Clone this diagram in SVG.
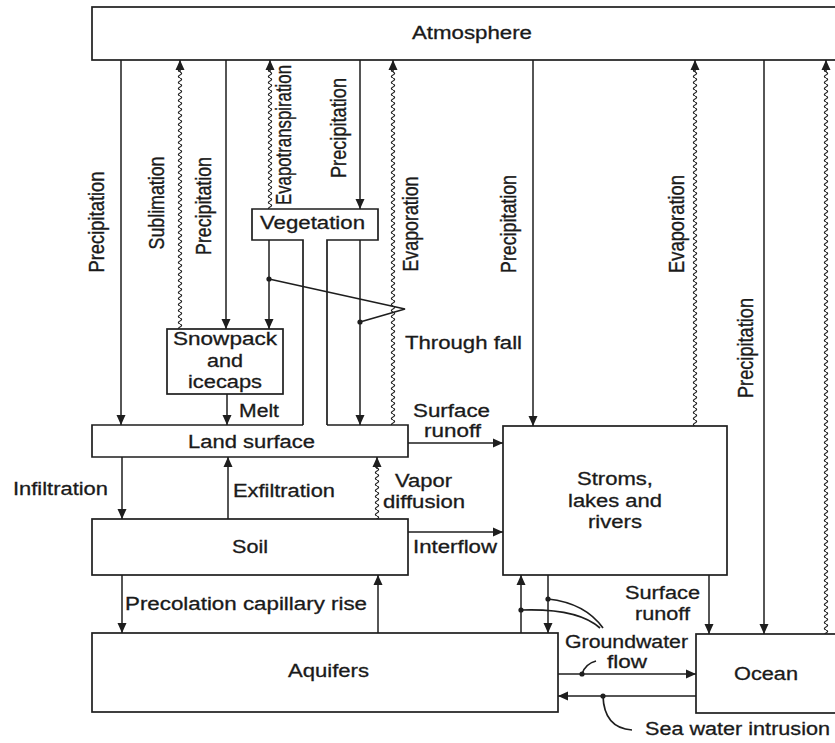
<svg xmlns="http://www.w3.org/2000/svg" width="835" height="743" viewBox="0 0 835 743">
<defs>
<style>
.box{fill:#fff;stroke:#1e1e1e;stroke-width:1.7}
.open{fill:none;stroke:#1e1e1e;stroke-width:1.7}
.ln{fill:none;stroke:#1e1e1e;stroke-width:1.5}
.pt{fill:none;stroke:#1e1e1e;stroke-width:1.7}
.dot{fill:#1e1e1e}
.t{font-family:"Liberation Sans",Arial,sans-serif;font-size:18px;fill:#1a1a1a;stroke:#1a1a1a;stroke-width:0.3}
.v{font-family:"Liberation Sans",Arial,sans-serif;font-size:18px;fill:#1a1a1a;stroke:#1a1a1a;stroke-width:0.3;text-anchor:middle}
</style>
<marker id="ar" viewBox="0 0 10 10" refX="10" refY="5" markerWidth="11" markerHeight="10" markerUnits="userSpaceOnUse" orient="auto">
<path d="M0 0.5 L10 5 L0 9.5 z" fill="#1e1e1e"/>
</marker>
<pattern id="wave" x="-4" y="0" width="8" height="6" patternUnits="userSpaceOnUse">
<path d="M4 0 Q7.2 1.5 4 3 Q0.8 4.5 4 6" fill="none" stroke="#1e1e1e" stroke-width="1.2"/>
</pattern>
</defs>
<rect x="0" y="0" width="835" height="743" fill="#fff"/>

<g id="atmosphere">
<rect class="box" x="92" y="7" width="760" height="53"/>
<text class="t" x="412" y="39" textLength="120" lengthAdjust="spacingAndGlyphs">Atmosphere</text>
</g>

<g id="vegetation">
<path class="open" d="M303 425 V240 H252 V209 H378 V240 H327 V425"/>
<text class="t" x="260" y="229" textLength="105" lengthAdjust="spacingAndGlyphs">Vegetation</text>
</g>

<g id="snowpack">
<rect class="box" x="167" y="329" width="116" height="65"/>
<text class="t" x="173" y="345" textLength="104" lengthAdjust="spacingAndGlyphs">Snowpack</text>
<text class="t" x="207" y="367" textLength="36" lengthAdjust="spacingAndGlyphs">and</text>
<text class="t" x="188" y="388" textLength="74" lengthAdjust="spacingAndGlyphs">icecaps</text>
</g>

<g id="land-surface">
<path class="open" d="M303 425 H92 V457 H408 V425 H327"/>
<text class="t" x="188" y="448" textLength="127" lengthAdjust="spacingAndGlyphs">Land surface</text>
</g>

<g id="soil">
<rect class="box" x="92" y="519" width="316" height="56"/>
<text class="t" x="232" y="553" textLength="36" lengthAdjust="spacingAndGlyphs">Soil</text>
</g>

<g id="streams">
<rect class="box" x="503" y="426" width="224" height="149"/>
<text class="t" x="577" y="485" textLength="76" lengthAdjust="spacingAndGlyphs">Stroms,</text>
<text class="t" x="568" y="507" textLength="94" lengthAdjust="spacingAndGlyphs">lakes and</text>
<text class="t" x="588" y="528" textLength="54" lengthAdjust="spacingAndGlyphs">rivers</text>
</g>

<g id="aquifers">
<rect class="box" x="92" y="633" width="466" height="79"/>
<text class="t" x="288" y="677" textLength="81" lengthAdjust="spacingAndGlyphs">Aquifers</text>
</g>

<g id="ocean">
<rect class="box" x="696" y="634" width="200" height="79"/>
<text class="t" x="734" y="680" textLength="64" lengthAdjust="spacingAndGlyphs">Ocean</text>
</g>

<g id="connectors">
<path class="ln" d="M121 60 V425" marker-end="url(#ar)"/>
<path class="ln" d="M226 60 V329" marker-end="url(#ar)"/>
<path class="ln" d="M360 60 V209" marker-end="url(#ar)"/>
<path class="ln" d="M533 60 V426" marker-end="url(#ar)"/>
<path class="ln" d="M764 60 V634" marker-end="url(#ar)"/>
<g transform="translate(180,0)"><rect x="-4" y="68" width="8" height="261" fill="url(#wave)"/></g>
<path class="ln" d="M180 72 V60" marker-end="url(#ar)"/>
<g transform="translate(270,0)"><rect x="-4" y="68" width="8" height="141" fill="url(#wave)"/></g>
<path class="ln" d="M270 72 V60" marker-end="url(#ar)"/>
<g transform="translate(393,0)"><rect x="-4" y="68" width="8" height="357" fill="url(#wave)"/></g>
<path class="ln" d="M393 72 V60" marker-end="url(#ar)"/>
<g transform="translate(695,0)"><rect x="-4" y="68" width="8" height="358" fill="url(#wave)"/></g>
<path class="ln" d="M695 72 V60" marker-end="url(#ar)"/>
<g transform="translate(826,0)"><rect x="-4" y="68" width="8" height="566" fill="url(#wave)"/></g>
<path class="ln" d="M826 72 V60" marker-end="url(#ar)"/>
<g transform="translate(377,0)"><rect x="-4" y="465" width="8" height="54" fill="url(#wave)"/></g>
<path class="ln" d="M377 469 V457" marker-end="url(#ar)"/>
<path class="ln" d="M269 240 V329" marker-end="url(#ar)"/>
<path class="ln" d="M360 240 V425" marker-end="url(#ar)"/>
<path class="pt" d="M269 279 L405 309 L360 322"/>
<circle class="dot" cx="269" cy="279" r="2.6"/>
<circle class="dot" cx="360" cy="322" r="2.6"/>
<path class="ln" d="M227 394 V425" marker-end="url(#ar)"/>
<path class="ln" d="M408 443 H503" marker-end="url(#ar)"/>
<path class="ln" d="M122 457 V519" marker-end="url(#ar)"/>
<path class="ln" d="M228 519 V457" marker-end="url(#ar)"/>
<path class="ln" d="M408 532 H503" marker-end="url(#ar)"/>
<path class="ln" d="M122 575 V633" marker-end="url(#ar)"/>
<path class="ln" d="M378 633 V575" marker-end="url(#ar)"/>
<path class="ln" d="M521 633 V575" marker-end="url(#ar)"/>
<path class="ln" d="M548 575 V633" marker-end="url(#ar)"/>
<path class="pt" d="M548 599 Q585 603 603 628"/>
<path class="pt" d="M521 610 Q578 608 600 628"/>
<circle class="dot" cx="548" cy="599" r="2.6"/>
<circle class="dot" cx="521" cy="610" r="2.6"/>
<path class="ln" d="M709 575 V634" marker-end="url(#ar)"/>
<path class="ln" d="M558 674 H696" marker-end="url(#ar)"/>
<path class="pt" d="M582 674 Q585 664 596 661"/>
<circle class="dot" cx="582" cy="674" r="2.6"/>
<path class="ln" d="M696 696 H558" marker-end="url(#ar)"/>
<path class="pt" d="M603 696 Q604 728 632 730"/>
<circle class="dot" cx="603" cy="696" r="2.6"/>
</g>

<g id="labels">
<text class="v" transform="translate(104,222) scale(1.25,1) rotate(-90)" textLength="101" lengthAdjust="spacingAndGlyphs">Precipitation</text>
<text class="v" transform="translate(164,203) scale(1.25,1) rotate(-90)" textLength="93" lengthAdjust="spacingAndGlyphs">Sublimation</text>
<text class="v" transform="translate(211,206) scale(1.25,1) rotate(-90)" textLength="98" lengthAdjust="spacingAndGlyphs">Precipitation</text>
<text class="v" transform="translate(291,135) scale(1.25,1) rotate(-90)" textLength="140" lengthAdjust="spacingAndGlyphs">Evapotranspiration</text>
<text class="v" transform="translate(346,128) scale(1.25,1) rotate(-90)" textLength="100" lengthAdjust="spacingAndGlyphs">Precipitation</text>
<text class="v" transform="translate(418,224) scale(1.25,1) rotate(-90)" textLength="95" lengthAdjust="spacingAndGlyphs">Evaporation</text>
<text class="v" transform="translate(516,224) scale(1.25,1) rotate(-90)" textLength="98" lengthAdjust="spacingAndGlyphs">Precipitation</text>
<text class="v" transform="translate(684,224) scale(1.25,1) rotate(-90)" textLength="98" lengthAdjust="spacingAndGlyphs">Evaporation</text>
<text class="v" transform="translate(753,348) scale(1.25,1) rotate(-90)" textLength="100" lengthAdjust="spacingAndGlyphs">Precipitation</text>
<text class="t" x="405" y="349" textLength="117" lengthAdjust="spacingAndGlyphs">Through fall</text>
<text class="t" x="239" y="417" textLength="40" lengthAdjust="spacingAndGlyphs">Melt</text>
<text class="t" x="413" y="417" textLength="77" lengthAdjust="spacingAndGlyphs">Surface</text>
<text class="t" x="424" y="437" textLength="57" lengthAdjust="spacingAndGlyphs">runoff</text>
<text class="t" x="13" y="495" textLength="95" lengthAdjust="spacingAndGlyphs">Infiltration</text>
<text class="t" x="233" y="497" textLength="102" lengthAdjust="spacingAndGlyphs">Exfiltration</text>
<text class="t" x="395" y="487" textLength="57" lengthAdjust="spacingAndGlyphs">Vapor</text>
<text class="t" x="383" y="508" textLength="82" lengthAdjust="spacingAndGlyphs">diffusion</text>
<text class="t" x="413" y="553" textLength="84" lengthAdjust="spacingAndGlyphs">Interflow</text>
<text class="t" x="125" y="610" textLength="242" lengthAdjust="spacingAndGlyphs">Precolation capillary rise</text>
<text class="t" x="625" y="599" textLength="75" lengthAdjust="spacingAndGlyphs">Surface</text>
<text class="t" x="635" y="620" textLength="55" lengthAdjust="spacingAndGlyphs">runoff</text>
<text class="t" x="565" y="648" textLength="123" lengthAdjust="spacingAndGlyphs">Groundwater</text>
<text class="t" x="607" y="668" textLength="40" lengthAdjust="spacingAndGlyphs">flow</text>
<text class="t" x="645" y="735" textLength="185" lengthAdjust="spacingAndGlyphs">Sea water intrusion</text>
</g>
</svg>
